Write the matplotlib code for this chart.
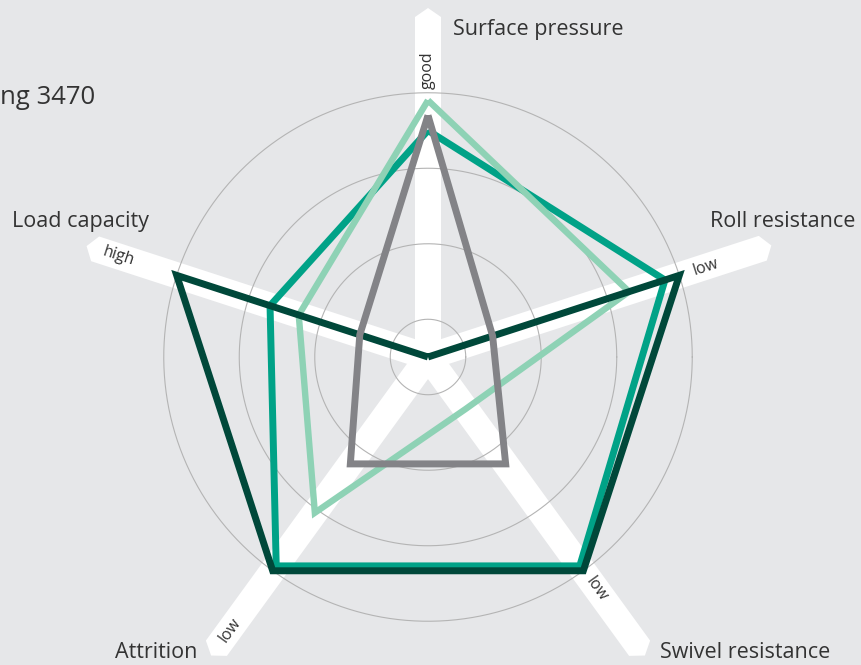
import matplotlib.pyplot as plt
import numpy as np

# axes of the radar, clockwise from the top
axis_names = ['Surface pressure', 'Roll resistance', 'Swivel resistance', 'Attrition', 'Load capacity']
axis_marks = ['good', 'low', 'low', 'low', 'high']
axis_angles = [90, 18, -54, -126, 162]

# series values (scale 0 .. 3.5)
dark_green = [0.0, 3.5, 3.5, 3.5, 3.5]
teal = [3.0, 3.3, 3.42, 3.42, 2.2]
light_green = [3.4, 2.8, 0.85, 2.55, 1.8]
grey = [3.2, 0.9, 1.75, 1.75, 0.95]

rings = [0.5, 1.5, 2.5, 3.5]
title = 'ng 3470'

bg = '#e6e7e9'
txt = '#333333'
font = 'Open Sans'

W, H = 862, 665
unit = 75.5          # pixels per data unit
cx, cy = 428, 357    # centre in pixels (from top)

fig = plt.figure(figsize=(W / 100, H / 100), dpi=100)
fig.patch.set_facecolor(bg)
ax = fig.add_axes([0, 0, 1, 1])
ax.set_facecolor(bg)
ax.set_xlim(-cx / unit, (W - cx) / unit)
ax.set_ylim(-(H - cy) / unit, cy / unit)
ax.axis('off')

theta = np.radians(axis_angles)

# white arrow bands
half = 13 / unit
tip = 9 / unit
lengths = [340 / unit, 352 / unit, 360 / unit, 360 / unit, 350 / unit]
for a, L in zip(theta, lengths):
    u = np.array([np.cos(a), np.sin(a)])
    n = np.array([-np.sin(a), np.cos(a)])
    pts = [-n * half, u * L - n * half, u * (L + tip), u * L + n * half, n * half]
    ax.add_patch(plt.Polygon(pts, closed=True, fc='white', ec='none', zorder=1))

# rings
t = np.linspace(0, 2 * np.pi, 400)
for r in rings:
    ax.plot(r * np.cos(t), r * np.sin(t), color='#b4b4b4', lw=0.8, zorder=2)

# series
def radar(vals, color, lw, z):
    v = np.array(vals + vals[:1])
    a = np.append(theta, theta[0])
    ax.plot(v * np.cos(a), v * np.sin(a), color=color, lw=lw, zorder=z,
            solid_joinstyle='miter', solid_capstyle='butt')

radar(teal, '#00a287', 5, 3)
radar(light_green, '#8ed2b5', 4.6, 4)
radar(dark_green, '#00483a', 5, 5)
radar(grey, '#838387', 5, 6)

# small marks along the arrows
mark_r = [287, 292, 287, 337, 326]
mark_rot = [90, 18, -54, 54, -18]
for a, r, m, rot in zip(theta, mark_r, axis_marks, mark_rot):
    ax.text(r / unit * np.cos(a), r / unit * np.sin(a), m, rotation=rot,
            rotation_mode='anchor', ha='center', va='center',
            fontsize=11.5, color=txt, family=font, zorder=7)

# axis names (pixel positions)
def px(x, y):
    return ((x - cx) / unit, (cy - y) / unit)

name_pos = [(453, 30, 'left'), (855, 222, 'right'), (660, 652, 'left'),
            (197, 652, 'right'), (12, 222, 'left')]
for name, (x, y, ha) in zip(axis_names, name_pos):
    ax.text(*px(x, y), name, ha=ha, va='center', fontsize=15.5,
            color=txt, family=font)

ax.text(*px(0, 97), title, ha='left', va='center', fontsize=18.5,
        color=txt, family=font)

fig.savefig('out.png', dpi=100, facecolor=bg)
